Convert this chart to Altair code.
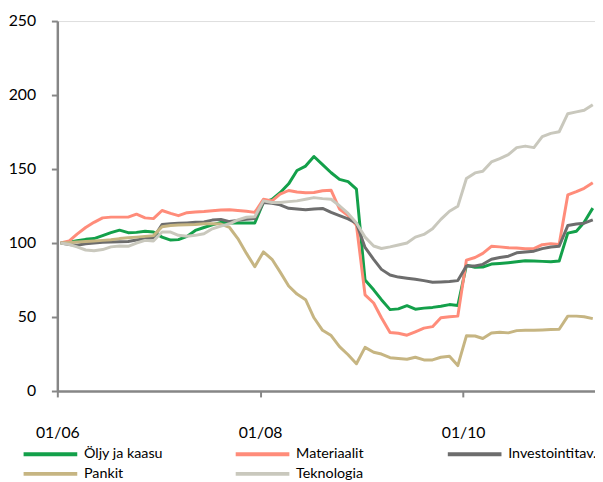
import altair as alt
import pandas as pd

# Monthly observations, Jan 2006 .. Apr 2011 (64 months)
months = pd.date_range("2006-01-01", periods=64, freq="MS") + pd.Timedelta(days=12)

series_names = ["Öljy ja kaasu", "Materiaalit", "Investointitav.", "Pankit", "Teknologia"]
series_colors = ["#13A04A", "#FF8C7A", "#6D6D6D", "#C6B582", "#C9C8BD"]
# legend fills column by column: order so rows read as in the original
legend_order = ["Öljy ja kaasu", "Pankit", "Materiaalit", "Teknologia", "Investointitav."]

oljy = [100, 100.5, 101.5, 102.5, 103, 105, 107, 108.7, 107, 107.2, 108, 107.5,
        104, 102, 102.3, 104.5, 108.5, 110.5, 112.3, 114, 113.5, 113.6, 113.6, 113.5,
        127.5, 129.5, 134, 140, 149, 152, 158.5, 153, 147.5, 143, 141.5, 136.5,
        75, 68.4, 61.7, 55, 55.5, 57.7, 55.3, 56, 56.5, 57.3, 58.4, 57.8,
        85, 83.6, 83.8, 85.8, 86.2, 86.7, 87.3, 88, 87.8, 87.6, 87.3, 87.8,
        106.7, 108, 114, 123.6]
materiaalit = [100, 101.5, 106, 110.5, 114, 117, 117.5, 117.5, 117.5, 119.5, 117, 116.5,
               122, 120, 118.5, 120.5, 121, 121.3, 121.8, 122.3, 122.5, 122, 121.5, 120.7,
               129.6, 128.5, 133, 135.5, 134.5, 134, 134.2, 135.3, 135.6, 123, 118.5, 112,
               65, 59.5, 49.5, 39.5, 39, 37.7, 40, 42.5, 43.5, 49.5, 50.2, 50.6,
               88.5, 90.2, 93, 97.8, 97.4, 96.8, 96.7, 96.2, 96.2, 98.9, 99.6, 99.1,
               132.5, 134.7, 137, 140.7]
investointi = [100, 99, 98.5, 99.5, 100, 100.5, 100.7, 100.8, 101, 102, 103, 103.5,
               112.5, 113, 113.3, 113.6, 114, 114.3, 115.5, 116, 114.5, 115.3, 116, 116.5,
               127.4, 126.8, 125.8, 123.5, 123, 122.5, 123, 123.4, 120.7, 118.5, 116.3, 113.4,
               97, 89, 82.2, 78.4, 77, 76.2, 75.5, 74.6, 73.5, 73.7, 74, 74.6,
               84.5, 84.5, 85.6, 89, 90.2, 91.1, 93.4, 94, 94.5, 96.2, 97.3, 97.8,
               111.8, 112.9, 113.4, 115.6]
pankit = [100, 100.3, 100.7, 101, 101.4, 101.8, 102.2, 103, 103.6, 104, 104.5, 105,
          111, 111.8, 112.2, 112.3, 112.5, 113, 113, 112.8, 110.5, 103, 93, 84,
          94, 89, 80.5, 71, 65.5, 61.7, 49.5, 41, 37.5, 30, 24.5, 18.4,
          29.5, 26.2, 25, 22.5, 22, 21.5, 22.8, 21, 21, 22.8, 23.5, 17.2,
          37.3, 37.2, 35.5, 39.2, 39.7, 39.3, 40.8, 41, 41, 41.3, 41.5, 41.7,
          50.6, 50.6, 50.2, 48.9]
teknologia = [100, 99, 97.4, 95.3, 94.8, 95.6, 97.4, 98, 97.8, 100, 101.8, 101.4,
              107.4, 107.4, 105.2, 104.6, 105.2, 106.3, 109.6, 111.4, 113, 115.6, 117.4, 117.8,
              128.5, 127.4, 127.4, 128, 128.5, 129.6, 130.7, 130, 129.6, 125.2, 120, 113.5,
              104, 98, 96.3, 97.4, 98.7, 100, 104, 105.8, 109.6, 116, 121.5, 124.8,
              143.6, 147.4, 148.5, 154.8, 157, 159.7, 164.5, 165.5, 164.5, 171.9, 174.1, 175.2,
              187.4, 188.6, 189.7, 193.5]

rows = []
for name, vals in zip(series_names, [oljy, materiaalit, investointi, pankit, teknologia]):
    for d, v in zip(months, vals):
        rows.append({"date": d.strftime("%Y-%m-%dT00:00:00"), "value": v,
                     "series": name, "order": series_names.index(name)})
df = pd.DataFrame(rows)

color_map = dict(zip(series_names, series_colors))

chart = alt.Chart(df).mark_line(strokeWidth=3, strokeJoin="round").encode(
    x=alt.X("date:T",
            scale=alt.Scale(domain=[alt.DateTime(year=2006, month=1, date=1),
                                    alt.DateTime(year=2011, month=4, date=21)]),
            axis=alt.Axis(title=None, values=[alt.DateTime(year=2006, month=1, date=1),
                                              alt.DateTime(year=2008, month=1, date=1),
                                              alt.DateTime(year=2010, month=1, date=1)],
                          format="%m/%y", labelFlush=False, grid=False,
                          domainColor="#868686", domainWidth=2.5,
                          tickColor="#868686", tickWidth=2, tickSize=6,
                          labelPadding=28, labelFontSize=16, labelFont="Lato",
                          labelColor="#000000", labelBaseline="top")),
    y=alt.Y("value:Q",
            scale=alt.Scale(domain=[0, 250], nice=False),
            axis=alt.Axis(title=None, values=[0, 50, 100, 150, 200, 250], grid=False,
                          domainColor="#868686", domainWidth=2.5,
                          tickColor="#868686", tickWidth=2, tickSize=6,
                          labelPadding=16, labelFontSize=16, labelFont="Lato",
                          labelColor="#000000")),
    color=alt.Color("series:N",
                    scale=alt.Scale(domain=legend_order,
                                    range=[color_map[n] for n in legend_order]),
                    legend=alt.Legend(title=None, orient="none", legendX=-17, legendY=429,
                                      columns=3, symbolType="M-3.4,0H3.4", symbolSize=256,
                                      symbolStrokeWidth=4, labelFontSize=14.5, labelFont="Lato",
                                      labelColor="#000000", rowPadding=2, columnPadding=55,
                                      gridAlign="all", labelOffset=24)),
    order=alt.Order("order:Q"),
).properties(
    width=545, height=375,
    autosize=alt.AutoSizeParams(type="none"),
    padding={"left": 50, "top": 10, "right": 0, "bottom": 90},
).configure_view(stroke=None).configure(background="white")

chart.save("out.html", embed_options={"renderer": "svg", "actions": False})
